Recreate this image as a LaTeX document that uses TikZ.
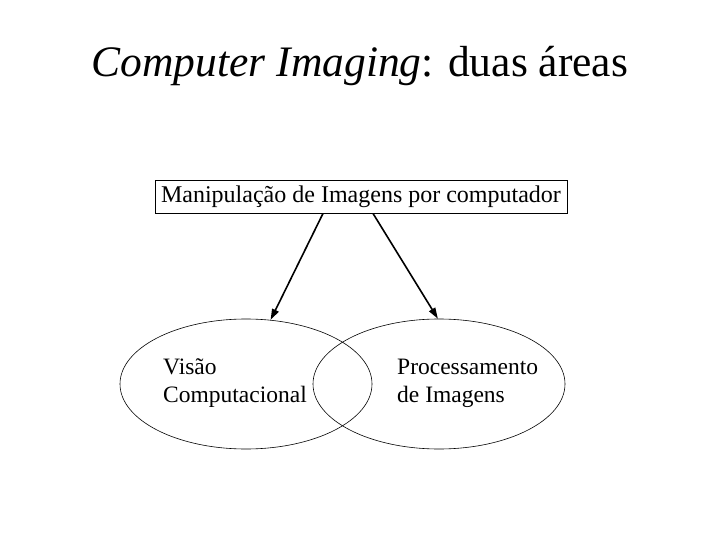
\documentclass[tikz,border=0pt]{standalone}
\usepackage{fontspec}
\setmainfont{Liberation Serif}
\usetikzlibrary{arrows.meta,positioning,shapes.geometric}

\begin{document}
\begin{tikzpicture}[
    x=1pt, y=-1pt,
    titlebox/.style={inner sep=0pt, font=\fontsize{43.5}{48}\selectfont},
    topbox/.style={draw, line width=0.9pt, minimum width=412pt, minimum height=33pt, inner sep=0pt, font=\fontsize{24}{26}\selectfont},
    area/.style={draw, ellipse, line width=0.6pt, minimum width=252pt, minimum height=130pt, inner sep=0pt},
    areatext/.style={anchor=west, align=left, inner sep=0pt, font=\fontsize{23.5}{28}\selectfont},
    arr/.style={-{Triangle[length=11pt,width=7pt]}, line width=1.6pt}
  ]
    \useasboundingbox (0,0) rectangle (720,540);
    \node[titlebox] (title) at (360,66) {\textit{Computer Imaging}: duas áreas};
    \node[topbox] (mp) at (361,196.5) {Manipulação de Imagens por computador};
    \node[area] (vc) at (246,384) {};
    \node[area] (pi) at (439,384) {};
    \node[areatext] (vct) at (163,383) {Visão\\Computacional};
    \node[areatext] (pit) at (397,383) {Processamento\\de Imagens};
    \draw[arr] ([xshift=-38pt]mp.south) -- (vc.69);
    \draw[arr] ([xshift=12pt]mp.south) -- (pi.91);
  \end{tikzpicture}
\end{document}
